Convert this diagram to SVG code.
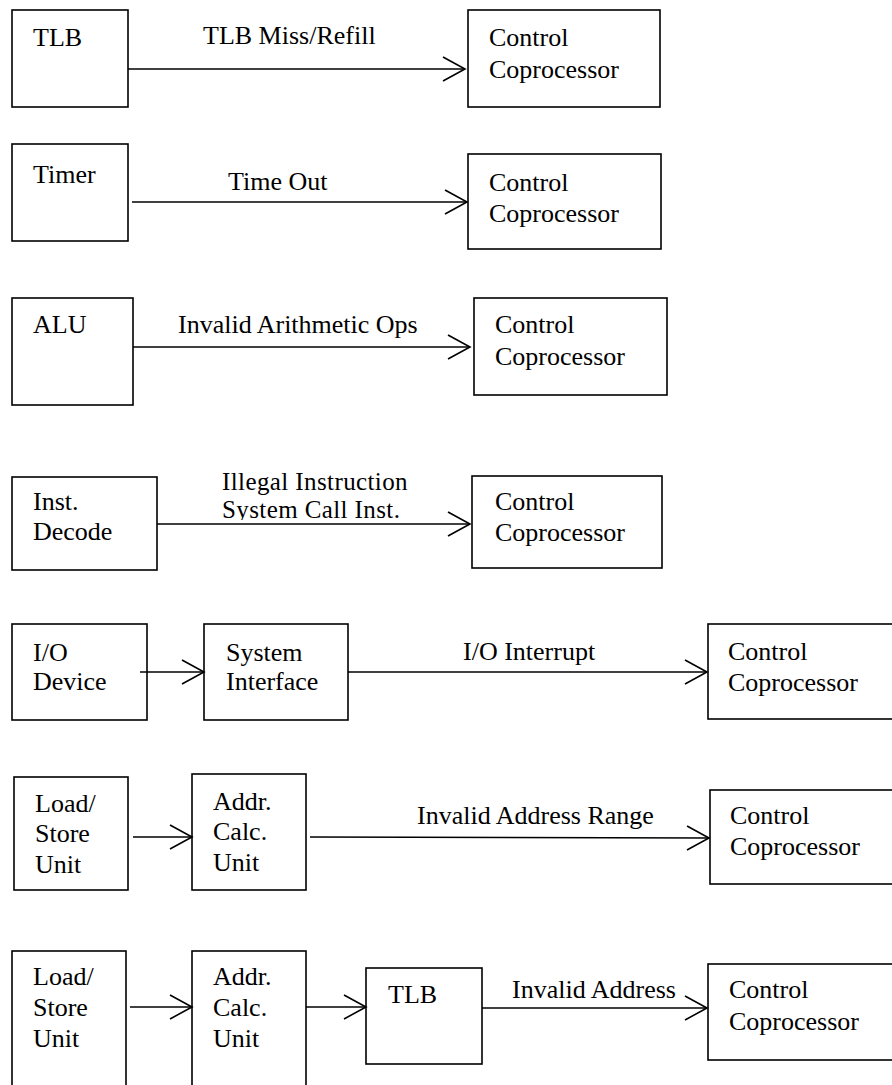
<svg xmlns="http://www.w3.org/2000/svg" width="892" height="1085" viewBox="0 0 892 1085">
  <style>
    .box { fill: #ffffff; stroke: #000000; stroke-width: 1.6; }
    .wire { fill: none; stroke: #000000; stroke-width: 1.6; marker-end: url(#chevron); }
    .tight { font-size: 25px; letter-spacing: 0.4px; }
  </style>
  <defs>
    <marker id="chevron" markerUnits="userSpaceOnUse" markerWidth="26" markerHeight="28" refX="23" refY="13" orient="auto">
      <path d="M1,1 L23,13 L1,25" fill="none" stroke="#000000" stroke-width="1.6"/>
    </marker>
    <!-- the second label line sits in a tight text frame that trims descenders -->
    <clipPath id="labelFrame">
      <rect x="200" y="496" width="260" height="24"/>
    </clipPath>
  </defs>
  <rect width="892" height="1085" fill="#ffffff"/>

  <g font-family="'Liberation Serif', 'Times New Roman', Times, 'Nimbus Roman', 'DejaVu Serif', serif" font-size="26" fill="#000000">
  <!-- chain 1 -->
  <g id="tlb1">
    <rect class="box" x="12" y="10" width="116" height="97"/>
    <text x="33" y="46">TLB</text>
  </g>
  <g id="cp1">
    <rect class="box" x="468" y="10" width="192" height="97"/>
    <text x="489" y="46">Control</text>
    <text x="489" y="78">Coprocessor</text>
  </g>

  <!-- chain 2 -->
  <g id="timer">
    <rect class="box" x="12" y="144" width="116" height="97"/>
    <text x="33" y="183">Timer</text>
  </g>
  <g id="cp2">
    <rect class="box" x="468" y="154" width="193" height="95"/>
    <text x="489" y="191">Control</text>
    <text x="489" y="222">Coprocessor</text>
  </g>

  <!-- chain 3 -->
  <g id="alu">
    <rect class="box" x="12" y="298" width="121" height="107"/>
    <text x="33" y="333">ALU</text>
  </g>
  <g id="cp3">
    <rect class="box" x="474" y="298" width="193" height="97"/>
    <text x="495" y="333">Control</text>
    <text x="495" y="365">Coprocessor</text>
  </g>

  <!-- chain 4 -->
  <g id="decode">
    <rect class="box" x="12" y="477" width="145" height="93"/>
    <text x="33" y="510">Inst.</text>
    <text x="33" y="540">Decode</text>
  </g>
  <g id="cp4">
    <rect class="box" x="472" y="476" width="190" height="92"/>
    <text x="495" y="510">Control</text>
    <text x="495" y="541">Coprocessor</text>
  </g>

  <!-- chain 5 -->
  <g id="iodev">
    <rect class="box" x="12" y="624" width="135" height="96"/>
    <text x="33" y="661">I/O</text>
    <text x="33" y="690">Device</text>
  </g>
  <g id="sysif">
    <rect class="box" x="204" y="624" width="144" height="96"/>
    <text x="226" y="661">System</text>
    <text x="226" y="690">Interface</text>
  </g>
  <g id="cp5">
    <rect class="box" x="708" y="624" width="200" height="95"/>
    <text x="728" y="660">Control</text>
    <text x="728" y="691">Coprocessor</text>
  </g>

  <!-- chain 6 -->
  <g id="lsu6">
    <rect class="box" x="14" y="777" width="114" height="113"/>
    <text x="35" y="812">Load/</text>
    <text x="35" y="842">Store</text>
    <text x="35" y="873">Unit</text>
  </g>
  <g id="acu6">
    <rect class="box" x="192" y="774" width="114" height="116"/>
    <text x="213" y="810">Addr.</text>
    <text x="213" y="840">Calc.</text>
    <text x="213" y="871">Unit</text>
  </g>
  <g id="cp6">
    <rect class="box" x="710" y="790" width="200" height="94"/>
    <text x="730" y="824">Control</text>
    <text x="730" y="855">Coprocessor</text>
  </g>

  <!-- chain 7 -->
  <g id="lsu7">
    <rect class="box" x="12" y="951" width="114" height="150"/>
    <text x="33" y="985">Load/</text>
    <text x="33" y="1016">Store</text>
    <text x="33" y="1047">Unit</text>
  </g>
  <g id="acu7">
    <rect class="box" x="192" y="951" width="114" height="150"/>
    <text x="213" y="985">Addr.</text>
    <text x="213" y="1016">Calc.</text>
    <text x="213" y="1047">Unit</text>
  </g>
  <g id="tlb7">
    <rect class="box" x="366" y="968" width="116" height="96"/>
    <text x="388" y="1003">TLB</text>
  </g>
  <g id="cp7">
    <rect class="box" x="708" y="964" width="200" height="96"/>
    <text x="729" y="998">Control</text>
    <text x="729" y="1030">Coprocessor</text>
  </g>

  <!-- connectors and their labels -->
  <g id="connectors">
    <line class="wire" x1="128" y1="69" x2="465" y2="69"/>
    <text x="203" y="44">TLB Miss/Refill</text>

    <line class="wire" x1="132" y1="202" x2="467" y2="202"/>
    <text x="228" y="190">Time Out</text>

    <line class="wire" x1="133" y1="347" x2="470" y2="347"/>
    <text x="178" y="333">Invalid Arithmetic Ops</text>

    <line class="wire" x1="157" y1="524" x2="470" y2="524"/>
    <text class="tight" x="222" y="490">Illegal Instruction</text>
    <text class="tight" x="222" y="518" clip-path="url(#labelFrame)">System Call Inst.</text>

    <line class="wire" x1="140" y1="672" x2="204" y2="672"/>
    <line class="wire" x1="348" y1="672" x2="707" y2="672"/>
    <text x="463" y="660">I/O Interrupt</text>

    <line class="wire" x1="133" y1="837" x2="192" y2="837"/>
    <line class="wire" x1="310" y1="837" x2="709" y2="838"/>
    <text x="417" y="824">Invalid Address Range</text>

    <line class="wire" x1="130" y1="1007" x2="192" y2="1007"/>
    <line class="wire" x1="306" y1="1007" x2="366" y2="1007"/>
    <line class="wire" x1="482" y1="1008" x2="707" y2="1008"/>
    <text x="512" y="998">Invalid Address</text>
  </g>
  </g>
</svg>
